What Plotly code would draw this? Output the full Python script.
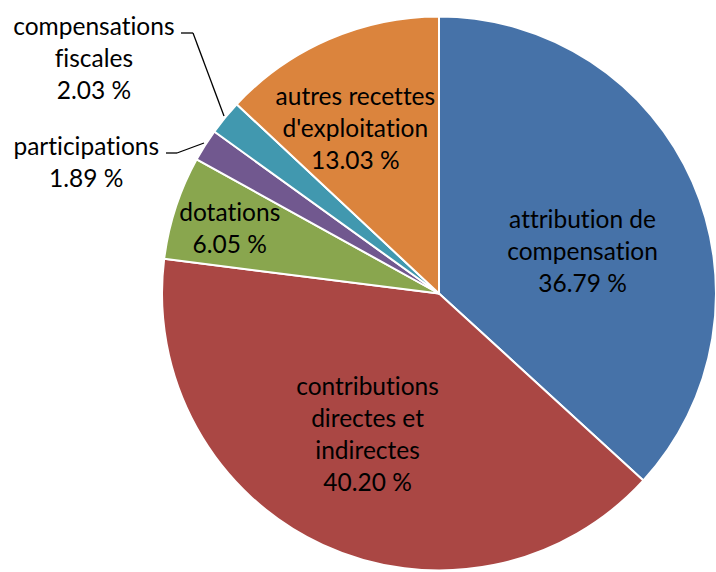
import plotly.graph_objects as go

labels = ["attribution de compensation", "contributions directes et indirectes", "dotations",
          "participations", "compensations fiscales", "autres recettes d'exploitation"]
display = ["attribution de<br>compensation", "contributions<br>directes et<br>indirectes", "dotations",
           "participations", "compensations<br>fiscales", "autres recettes<br>d'exploitation"]
values = [36.79, 40.20, 6.05, 1.89, 2.03, 13.03]
colors = ["#4672A8", "#AA4744", "#89A64E", "#71588F", "#4198AF", "#DB843D"]

W, H = 716, 572
# label centres in pixels (layout only)
label_pos = [(582, 251), (367, 433), (229, 227), (86, 161), (94, 57), (355, 127)]

fig = go.Figure(go.Pie(
    labels=labels, values=values, sort=False, direction="clockwise", rotation=0,
    marker=dict(colors=colors, line=dict(color="white", width=2)),
    textinfo="none", hoverinfo="label+percent",
    domain=dict(x=[162 / W, 1], y=[0, 1 - 15 / H]),
))

annotations = []
for d, v, (px, py) in zip(display, values, label_pos):
    annotations.append(dict(
        text=f"{d}<br>{v:.2f} %", x=px / W, y=1 - py / H, xref="paper", yref="paper",
        xanchor="center", yanchor="middle", showarrow=False,
        font=dict(family="Lato", size=24.5, color="black"),
    ))

def seg(x0, y0, x1, y1):
    return dict(type="line", xref="paper", yref="paper",
                x0=x0 / W, y0=1 - y0 / H, x1=x1 / W, y1=1 - y1 / H,
                line=dict(color="black", width=1.3))

shapes = [
    seg(181, 33, 193, 33), seg(193, 33, 224, 116),
    seg(166, 153, 177, 153), seg(177, 153, 204, 143),
]

fig.update_layout(
    width=W, height=H, margin=dict(l=0, r=0, t=0, b=0),
    paper_bgcolor="white", plot_bgcolor="white", showlegend=False,
    annotations=annotations, shapes=shapes,
)
post = ("document.body.style.margin='0';"
        "var s=document.createElement('style');"
        "s.innerHTML='text{font-variant-ligatures:none !important;font-feature-settings:\"liga\" 0 !important;}';"
        "document.head.appendChild(s);")
fig.write_html("out.html", post_script=post, config={"displayModeBar": False})
